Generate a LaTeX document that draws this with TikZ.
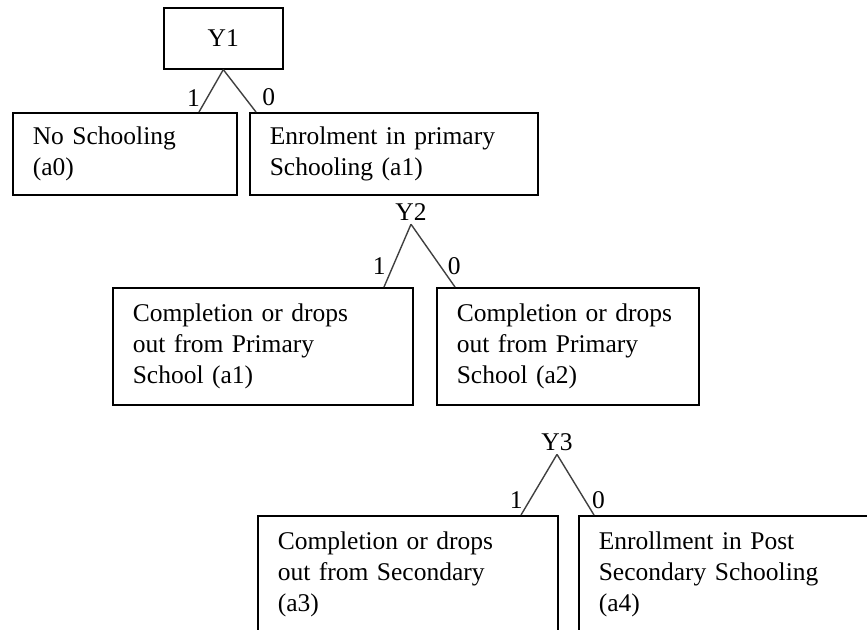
\documentclass[tikz,border=0pt]{standalone}
\usepackage{fontspec}
\setmainfont{Liberation Serif}
\newcommand{\boxfont}{\fontsize{12.75}{15.5}\selectfont}

\begin{document}
\begin{tikzpicture}[x=0.5pt,y=-0.5pt,thick,
  box/.style={draw,anchor=north west,align=left,inner xsep=10pt,inner ysep=0pt,font=\boxfont},
  choice node/.style={font=\boxfont,inner sep=1.5pt},
  branch/.style={draw=black!75,line width=0.7pt}]

  \useasboundingbox (0,0) rectangle (867,629);
  \clip (0,0) rectangle (867,629);

  % first choice
  \node[box,align=center,text width=39.5pt,minimum height=30.5pt] (y1) at (163,7) {Y1};
  \node[box,text width=92pt,minimum height=41pt] (a0) at (12,112) {No Schooling\\(a0)};
  \node[box,text width=124pt,minimum height=41pt] (a1) at (249,112) {Enrolment in primary\\Schooling (a1)};

  % second choice
  \node[choice node] (y2) at (411,212) {Y2};
  \node[box,text width=130pt,minimum height=58.5pt] (p1) at (112,287) {Completion or drops\\out from Primary\\School (a1)};
  \node[box,text width=111pt,minimum height=58.5pt] (p2) at (436,287) {Completion or drops\\out from Primary\\School (a2)};

  % third choice (boxes run off the page)
  \node[choice node] (y3) at (557,442) {Y3};
  \node[box,text width=130pt,minimum height=58.5pt] (s3) at (257,515) {Completion or drops\\out from Secondary\\(a3)};
  \node[box,text width=130pt,minimum height=58.5pt] (s4) at (578,515) {Enrollment in Post\\Secondary Schooling\\(a4)};

  \coordinate (e1l) at (199,112); \coordinate (e1r) at (256,112);
  \coordinate (e2l) at (384,287); \coordinate (e2r) at (455,287);
  \coordinate (e3l) at (521,515); \coordinate (e3r) at (594,515);

  \path[branch,every node/.style={font=\boxfont}]
    (y1.south) edge node[pos=.66,left] {1} (e1l)
    (y1.south) edge node[pos=.66,right,xshift=5pt] {0} (e1r)
    (y2.south) edge node[pos=.67,left] {1} (e2l)
    (y2.south) edge node[pos=.67,right] {0} (e2r)
    (y3.south) edge node[pos=.75,left] {1} (e3l)
    (y3.south) edge node[pos=.75,right] {0} (e3r);
%    (y3.south) edge (s4.north west);

\end{tikzpicture}
\end{document}
